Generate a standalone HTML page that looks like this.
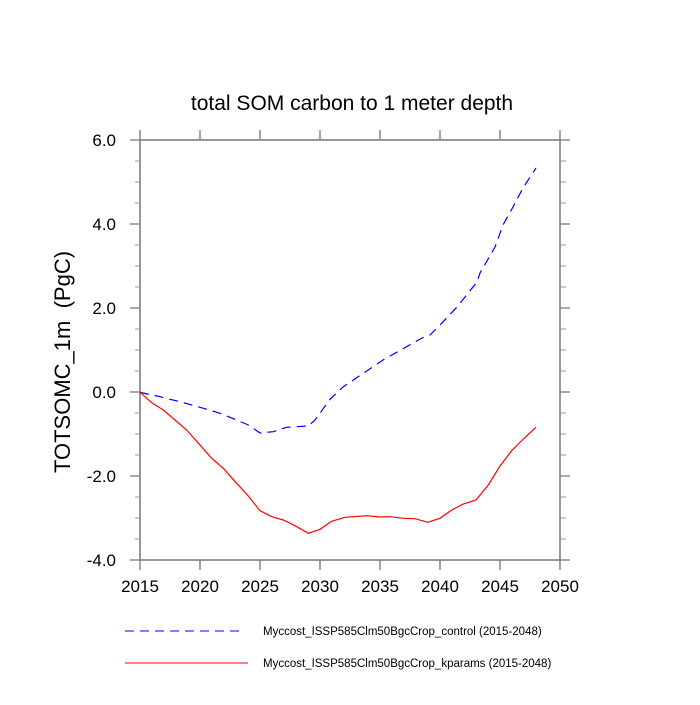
<!DOCTYPE html>
<html><head><meta charset="utf-8"><style>body{margin:0;background:#fff}</style></head><body>
<svg width="700" height="700" xmlns="http://www.w3.org/2000/svg" font-family="Liberation Sans, sans-serif">
<rect width="700" height="700" fill="#fff"/>
<text x="352" y="110" font-size="21" text-anchor="middle">total SOM carbon to 1 meter depth</text>
<text transform="translate(70,362) rotate(-90)" font-size="22" text-anchor="middle" style="white-space:pre" xml:space="preserve">TOTSOMC_1m  (PgC)</text>
<g stroke="#777" fill="none">
<rect x="140" y="140" width="420" height="420" stroke-width="1.5"/>
<g stroke-width="1.3">
<path d="M140,560v10M200,560v10M260,560v10M320,560v10M380,560v10M440,560v10M500,560v10M560,560v10"/>
<path d="M140,140v-10M200,140v-10M260,140v-10M320,140v-10M380,140v-10M440,140v-10M500,140v-10M560,140v-10"/>
<path d="M140,140h-10M140,224h-10M140,308h-10M140,392h-10M140,476h-10M140,560h-10"/>
<path d="M560,140h10M560,224h10M560,308h10M560,392h10M560,476h10M560,560h10"/>
</g>
<g stroke-width="1" stroke="#999">
<path d="M140,161h-5M140,182h-5M140,203h-5M140,245h-5M140,266h-5M140,287h-5M140,329h-5M140,350h-5M140,371h-5M140,413h-5M140,434h-5M140,455h-5M140,497h-5M140,518h-5M140,539h-5"/>
<path d="M560,161h6M560,182h6M560,203h6M560,245h6M560,266h6M560,287h6M560,329h6M560,350h6M560,371h6M560,413h6M560,434h6M560,455h6M560,497h6M560,518h6M560,539h6"/>
</g>
</g>
<g font-size="17" text-anchor="middle">
<text x="140" y="592">2015</text><text x="200" y="592">2020</text><text x="260" y="592">2025</text><text x="320" y="592">2030</text><text x="380" y="592">2035</text><text x="440" y="592">2040</text><text x="500" y="592">2045</text><text x="560" y="592">2050</text>
</g>
<g font-size="17" text-anchor="end">
<text x="116" y="146">6.0</text><text x="116" y="230">4.0</text><text x="116" y="314">2.0</text><text x="116" y="398">0.0</text><text x="116" y="482">-2.0</text><text x="116" y="566">-4.0</text>
</g>
<polyline fill="none" stroke="#0000ff" stroke-width="1.2" stroke-dasharray="9,6" points="140,392.3 160,396.7 170,399.3 180,401.7 200,407.3 220,413.3 230,417.3 248.3,425 260,433 273.3,431.7 286.7,427.3 308.3,426 315,420 330,399.3 343.3,386.7 363.3,373.3 383,360 422,338 430,335 440,325 457,307 477,282 480,273 495,247 503,225 513,207 523,188 536,168"/>
<polyline fill="none" stroke="#ff0000" stroke-width="1.2" points="140,392.3 151.7,402.7 163.3,410 186.7,430 211.7,458.3 223.3,468.3 236.7,483.3 248.3,496 260,510.7 271.7,516.7 283.3,520 295,525.7 308.3,533.3 320,529.3 331.7,521.3 345,517.3 366.7,515.7 380,517 390,516.7 403.3,518.3 415,518.7 427.7,522.3 440,518.3 451.7,510 463.3,504 476,500 488.3,485 500,466 511.7,450.7 523.3,439 536,427.3"/>
<line x1="125" y1="631" x2="245" y2="631" stroke="#0000ff" stroke-width="1" stroke-dasharray="9,6"/>
<line x1="125" y1="663" x2="248" y2="663" stroke="#ff0000" stroke-width="1"/>
<text x="263" y="635" font-size="11.5">Myccost_ISSP585Clm50BgcCrop_control (2015-2048)</text>
<text x="263" y="667" font-size="11.5">Myccost_ISSP585Clm50BgcCrop_kparams (2015-2048)</text>
</svg>
</body></html>
